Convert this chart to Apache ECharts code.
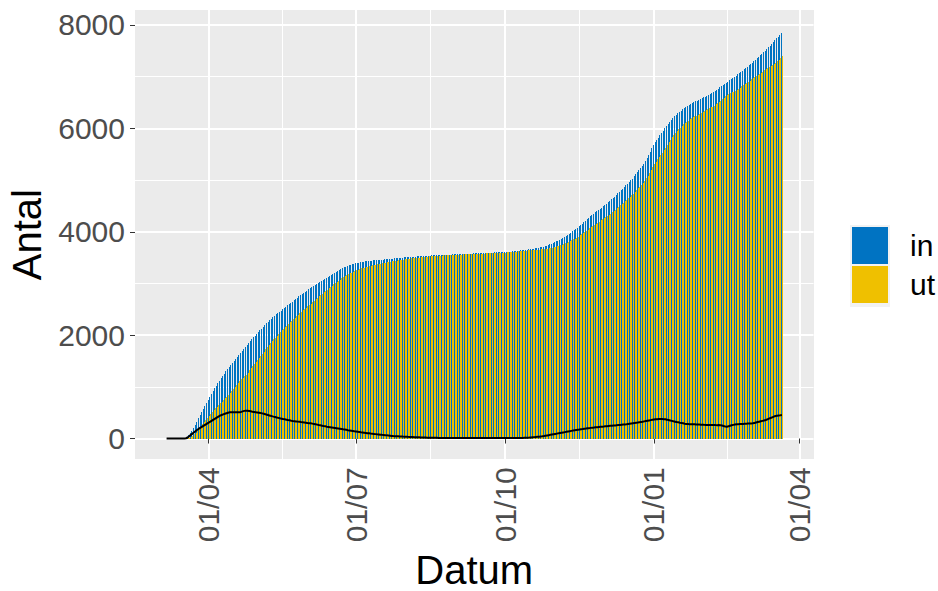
<!DOCTYPE html>
<html><head><meta charset="utf-8">
<script src="https://cdn.jsdelivr.net/npm/echarts@6/dist/echarts.min.js"></script>
<style>html,body{margin:0;padding:0;background:#fff}#c{width:938px;height:591px}
#c svg path:not([fill="none"]){shape-rendering:crispEdges}</style>
</head><body><div id="c"></div>
<script>
// first day of data: 6 March 2020, one value per day up to 21 March 2021
const firstDay = [2020, 2, 6];
const dayCount = 381;
const majorTicks = ['2020-04-01', '2020-07-01', '2020-10-01', '2021-01-01', '2021-04-01'];
const minorTicks = ['2020-05-16T12:00:00Z', '2020-08-16', '2020-11-16', '2021-02-15'];
const yTicks = [0, 2000, 4000, 6000, 8000];
const yMinor = [1000, 3000, 5000, 7000];
const legendNames = ['in', 'ut'];

// cumulative "in"
const inn = [
0,0,0,0,0,0,0,0,0,0,0,0,5,25,60,100,150,200,260,320,390,450,510,570,630,690,
750,810,865,920,970,1020,1070,1120,1165,1210,1255,1300,1340,1380,1420,1460,1500,1540,1580,1620,1660,1700,1740,1775,1810,1850,1885,1920,1955,1990,
2025,2060,2090,2125,2160,2195,2230,2260,2290,2315,2345,2370,2400,2425,2450,2475,2500,2525,2550,2575,2600,2625,2650,2675,2700,2725,2750,2775,2800,2820,2840,
2860,2885,2905,2925,2950,2970,2990,3010,3030,3050,3070,3090,3110,3130,3150,3170,3190,3210,3230,3250,3265,3280,3295,3310,3325,3340,3350,3360,3370,3380,
3390,3400,3405,3410,3415,3420,3425,3430,3435,3440,3443,3446,3449,3452,3455,3458,3461,3463,3466,3469,3472,3475,3478,3481,3484,3487,3490,3493,3496,3499,3502,
3505,3508,3511,3514,3516,3518,3520,3522,3524,3527,3529,3531,3533,3535,3537,3539,3541,3543,3545,3546,3548,3549,3551,3552,3554,3555,3557,3558,3560,3561,3563,
3564,3566,3567,3569,3570,3572,3573,3575,3576,3578,3579,3580,3582,3583,3584,3586,3587,3588,3590,3591,3593,3594,3596,3597,3599,3600,3602,3603,3605,3607,
3608,3610,3612,3614,3617,3620,3623,3627,3631,3635,3639,3643,3647,3651,3655,3659,3663,3667,3672,3677,3683,3689,3696,3703,3712,3722,3732,3743,3755,3767,3782,
3797,3812,3828,3844,3860,3877,3897,3918,3939,3960,3982,4005,4029,4053,4078,4103,4129,4155,4183,4211,4240,4269,4299,4329,4352,4375,4398,4421,4444,4467,
4490,4517,4544,4571,4598,4625,4652,4682,4712,4742,4772,4802,4832,4865,4898,4931,4964,4997,5030,5070,5110,5150,5190,5230,5275,5320,5370,5430,5490,5550,5615,
5680,5730,5775,5820,5865,5910,5955,6000,6045,6085,6125,6165,6200,6235,6265,6295,6320,6345,6370,6390,6410,6430,6450,6470,6490,6505,6520,6535,6550,6565,6580,
6600,6615,6632,6649,6666,6683,6700,6722,6745,6768,6791,6814,6837,6860,6883,6906,6929,6952,6975,6998,7020,7044,7068,7092,7116,7140,7165,7190,
7217,7244,7271,7298,7325,7352,7380,7411,7442,7473,7504,7535,7567,7600,7635,7670,7705,7740,7775,7812,7850
];

// cumulative "ut"
const ut = [
0,0,0,0,0,0,0,0,0,0,0,0,0,5,15,30,55,80,115,150,200,240,280,320,360,400,
442,484,519,554,584,615,646,678,710,742,775,810,840,873,910,950,992,1034,1074,1112,1145,1175,1205,1236,1273,1318,1359,1400,1440,1480,
1520,1560,1596,1639,1682,1726,1770,1809,1848,1882,1921,1954,1992,2025,2059,2091,2123,2154,2185,2217,2248,2280,2311,2340,2369,2398,2427,2457,2486,2510,2534,
2559,2588,2611,2637,2668,2694,2721,2748,2774,2801,2828,2854,2881,2906,2931,2956,2981,3006,3031,3056,3076,3096,3117,3137,3157,3178,3193,3208,3223,3239,
3254,3269,3279,3290,3299,3308,3317,3326,3335,3344,3350,3357,3364,3371,3377,3383,3390,3395,3401,3408,3414,3420,3427,3433,3438,3443,3447,3452,3457,3462,3466,
3471,3476,3480,3485,3488,3491,3495,3498,3501,3505,3509,3512,3515,3519,3522,3524,3527,3529,3532,3533,3536,3537,3539,3541,3543,3544,3546,3548,3550,3551,3553,
3554,3556,3558,3560,3561,3562,3563,3565,3566,3568,3570,3571,3573,3573,3574,3576,3577,3578,3580,3581,3583,3584,3586,3587,3588,3589,3591,3592,3594,3596,
3597,3599,3601,3603,3606,3609,3612,3616,3619,3623,3627,3631,3634,3637,3639,3641,3642,3643,3645,3647,3650,3653,3657,3661,3665,3669,3673,3678,3684,3690,3699,
3708,3717,3728,3738,3748,3759,3773,3788,3803,3818,3834,3851,3869,3888,3908,3929,3950,3972,3995,4019,4043,4068,4093,4119,4139,4158,4178,4198,4218,4238,
4258,4281,4305,4329,4353,4377,4401,4428,4455,4482,4509,4536,4563,4593,4623,4651,4679,4707,4735,4770,4805,4840,4874,4909,4949,4988,5032,5086,5140,5194,5253,
5312,5358,5400,5443,5487,5533,5580,5628,5680,5728,5776,5824,5867,5909,5946,5982,6014,6045,6076,6103,6129,6150,6172,6193,6215,6231,6248,6264,6280,6297,6313,
6335,6351,6370,6388,6404,6419,6437,6462,6487,6506,6532,6562,6595,6627,6654,6670,6683,6696,6711,6728,6745,6767,6789,6811,6833,6855,6878,6901,
6926,6951,6977,6996,7015,7034,7054,7077,7100,7123,7146,7164,7183,7203,7225,7247,7269,7299,7329,7362,7395
];

// currently admitted (black line)
const current = [
0,0,0,0,0,0,0,0,0,0,0,0,5,20,45,70,95,120,145,170,190,210,230,250,270,290,
308,326,346,366,386,405,424,442,455,468,480,490,500,507,510,510,508,506,506,508,515,525,535,539,537,532,526,520,515,510,
505,500,494,486,478,469,460,451,442,433,424,416,408,400,391,384,377,371,365,358,352,345,339,335,331,327,323,318,314,310,306,
301,297,294,288,282,276,269,262,256,249,242,236,229,224,219,214,209,204,199,194,189,184,178,173,168,162,157,152,147,141,
136,131,126,120,116,112,108,104,100,96,93,89,85,81,78,75,71,68,65,61,58,55,51,48,46,44,43,41,39,37,36,
34,32,31,29,28,27,25,24,23,22,20,19,18,16,15,15,14,14,13,13,12,12,12,11,11,11,11,10,10,10,10,
10,10,9,9,9,10,10,10,10,10,9,9,9,10,10,10,10,10,10,10,10,10,10,10,11,11,11,11,11,11,
11,11,11,11,11,11,11,11,12,12,12,12,13,14,16,18,21,24,27,30,33,36,39,42,47,53,59,65,71,77,83,
89,95,100,106,112,118,124,130,136,142,148,154,160,165,170,174,179,183,188,192,197,201,206,210,213,217,220,223,226,229,
232,236,239,242,245,248,251,254,257,260,263,266,269,272,275,280,285,290,295,300,305,310,316,321,326,332,338,344,350,356,362,
368,372,375,377,378,377,375,372,365,357,349,341,333,326,319,313,306,300,294,287,281,280,278,277,275,274,272,271,270,268,267,
265,264,262,261,262,264,263,260,258,262,259,252,242,233,229,236,246,256,264,270,275,277,279,281,283,285,287,289,
291,293,294,302,310,318,326,334,342,350,358,371,384,397,410,423,436,441,446,450,455
];

const DAY = 86400000;
const t0 = Date.UTC(firstDay[0], firstDay[1], firstDay[2]);
const dates = [];
for (let i = 0; i < dayCount; i++) dates.push(t0 + i * DAY);
const majorTs = majorTicks.map(s => Date.parse(s));
const minorTs = minorTicks.map(s => Date.parse(s));
const pad = n => (n < 10 ? '0' : '') + n;
const fmt = v => { const d = new Date(v); return pad(d.getUTCDate()) + '/' + pad(d.getUTCMonth() + 1); };
const FONT = '"Liberation Sans", Arial, Helvetica, sans-serif';
const xMin = Date.UTC(2020, 1, 15, 12), xMax = Date.UTC(2021, 3, 9, 12);
const yMin = -400, yMax = 8290;

const chart = echarts.init(document.getElementById('c'), null, {renderer: 'svg'});
chart.setOption({
  animation: false,
  backgroundColor: '#ffffff',
  textStyle: {fontFamily: FONT},
  grid: {left: 135, right: 124.5, top: 10, bottom: 131.8, show: true, backgroundColor: '#EBEBEB', borderWidth: 0,
         containLabel: false, outerBoundsMode: 'none'},
  legend: {
    data: legendNames, orient: 'vertical', left: 847, top: 222, itemWidth: 36, itemHeight: 37, itemGap: 2,
    icon: 'rect', selectedMode: false,
    textStyle: {fontSize: 30, color: '#000', fontFamily: FONT, padding: [0, 0, 0, 17]}
  },
  graphic: [{type: 'rect', left: 850, top: 225, shape: {width: 40, height: 82}, style: {fill: '#F2F2F2'}, z: -1, silent: true}],
  xAxis: [{
    type: 'value', min: xMin, max: xMax, scale: true,
    axisLine: {show: false},
    axisTick: {show: true, customValues: majorTs, length: 5, lineStyle: {color: '#333333', width: 1}},
    axisLabel: {customValues: majorTs, formatter: fmt, rotate: 90, fontSize: 30, color: '#4D4D4D', margin: 8, fontFamily: FONT},
    splitLine: {show: true, lineStyle: {color: '#ffffff', width: 2}},
    name: 'Datum', nameLocation: 'middle', nameGap: 89,
    nameTextStyle: {fontSize: 40, lineHeight: 36, color: '#000', fontFamily: FONT}
  }, {
    type: 'value', min: xMin, max: xMax, scale: true, position: 'bottom',
    axisLine: {show: false},
    axisTick: {show: false, customValues: minorTs},
    axisLabel: {show: false, customValues: minorTs},
    splitLine: {show: true, lineStyle: {color: '#ffffff', width: 1}}
  }],
  yAxis: [{
    type: 'value', min: yMin, max: yMax,
    axisLine: {show: false},
    axisTick: {show: true, customValues: yTicks, length: 5, lineStyle: {color: '#333333', width: 1}},
    axisLabel: {customValues: yTicks, formatter: v => String(v), fontSize: 30, color: '#4D4D4D', margin: 10, fontFamily: FONT},
    splitLine: {show: true, lineStyle: {color: '#ffffff', width: 2}},
    name: 'Antal', nameLocation: 'middle', nameGap: 87, nameRotate: 90,
    nameTextStyle: {fontSize: 40, color: '#000', fontFamily: FONT}
  }, {
    type: 'value', min: yMin, max: yMax, position: 'left',
    axisLine: {show: false},
    axisTick: {show: false, customValues: yMinor},
    axisLabel: {show: false, customValues: yMinor},
    splitLine: {show: true, lineStyle: {color: '#ffffff', width: 1}}
  }],
  series: [{
    name: 'in', type: 'bar', xAxisIndex: 0, yAxisIndex: 0,
    data: dates.map((d, i) => [d, inn[i]]),
    barWidth: 0.73, barGap: '0%', itemStyle: {color: '#0073C2'}
  }, {
    name: 'ut', type: 'bar', xAxisIndex: 0, yAxisIndex: 0,
    data: dates.map((d, i) => [d, ut[i]]),
    barWidth: 0.73, barGap: '0%', itemStyle: {color: '#EFC000'}
  }, {
    name: 'inneliggande', type: 'line', xAxisIndex: 0, yAxisIndex: 0,
    data: dates.map((d, i) => [d, current[i]]),
    showSymbol: false, symbol: 'none', z: 5,
    lineStyle: {color: '#000000', width: 2}
  }]
});
</script></body></html>
